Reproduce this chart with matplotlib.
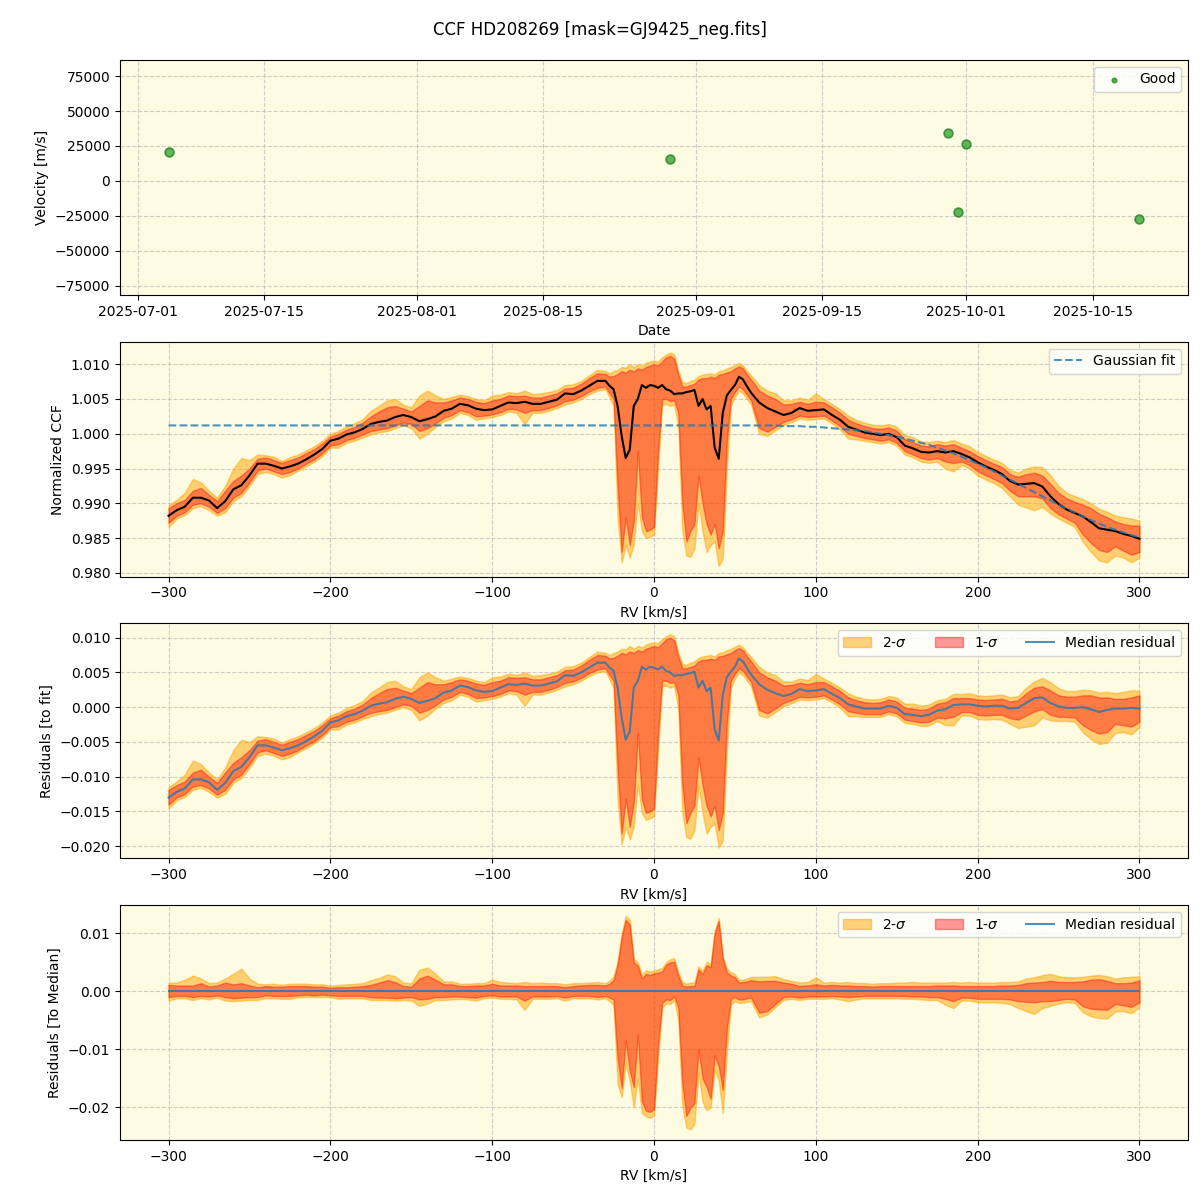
import numpy as np
import pandas as pd
import matplotlib
matplotlib.use('Agg')
import matplotlib.pyplot as plt
import matplotlib.dates as mdates

# --------------------------------------------
# Radial velocities of the individual epochs
# --------------------------------------------
datas = pd.to_datetime(['2025-07-04 10:00', '2025-08-29 03:00', '2025-09-29 00:00',
                        '2025-09-30 02:00', '2025-10-01 00:00', '2025-10-20 05:00'])
velocidades = [21000, 16000, 34500, -22500, 26500, -27000]

# --------------------------------------------
# CCF profile (median and percentile bands)
# grid: 5 km/s, 2.5 km/s around the lines, then 5 km/s
# --------------------------------------------
rv = np.concatenate([np.arange(-300, -29, 5), np.arange(-27.5, 61, 2.5), np.arange(65, 301, 5)])

ccf_med = [
    0.9882, 0.9890, 0.9895, 0.9908, 0.9908, 0.9904, 0.9893, 0.9903, 0.9920, 0.9926,
    0.9940, 0.9957, 0.9957, 0.9954, 0.9950, 0.9953, 0.9957, 0.9963, 0.9970, 0.9978,
    0.9990, 0.9993, 0.9999, 1.0002, 1.0007, 1.0014, 1.0017, 1.0019, 1.0024, 1.0027,
    1.0024, 1.0018, 1.0021, 1.0025, 1.0033, 1.0036, 1.0043, 1.0041, 1.0036, 1.0034,
    1.0035, 1.0040, 1.0045, 1.0044, 1.0046, 1.0043, 1.0043, 1.0046, 1.0049, 1.0058,
    1.0057, 1.0062, 1.0069, 1.0076, 1.0076,
    1.0069, 1.0064, 1.0040, 0.9997, 0.9965, 0.9977, 1.0040, 1.0050, 1.0070, 1.0066,
    1.0070, 1.0069, 1.0066, 1.0070, 1.0064, 1.0062, 1.0057, 1.0058, 1.0058, 1.0060,
    1.0061, 1.0063, 1.0040, 1.0050, 1.0035, 1.0040, 0.9980, 0.9964, 1.0030, 1.0055,
    1.0063, 1.0070, 1.0082, 1.0078, 1.0068, 1.0059,
    1.0045, 1.0037, 1.0032, 1.0027, 1.0030, 1.0037, 1.0033, 1.0034, 1.0035, 1.0027,
    1.0020, 1.0010, 1.0006, 1.0002, 1.0000, 0.9998, 1.0000, 0.9995, 0.9983, 0.9979,
    0.9974, 0.9973, 0.9975, 0.9973, 0.9975, 0.9971, 0.9966, 0.9959, 0.9953, 0.9948,
    0.9942, 0.9932, 0.9927, 0.9928, 0.9929, 0.9924, 0.9910, 0.9899, 0.9891, 0.9886,
    0.9881, 0.9873, 0.9864, 0.9862, 0.9860, 0.9856, 0.9853, 0.9849,
]

ccf_lo2 = [
    0.9866, 0.9878, 0.9883, 0.9893, 0.9896, 0.9890, 0.9882, 0.9887, 0.9903, 0.9910,
    0.9925, 0.9942, 0.9945, 0.9942, 0.9937, 0.9940, 0.9947, 0.9953, 0.9960, 0.9968,
    0.9980, 0.9980, 0.9987, 0.9990, 0.9995, 0.9999, 1.0002, 1.0004, 1.0008, 1.0012,
    1.0008, 0.9993, 1.0000, 1.0010, 1.0018, 1.0022, 1.0030, 1.0027, 1.0020, 1.0022,
    1.0024, 1.0027, 1.0032, 1.0030, 1.0014, 1.0030, 1.0030, 1.0033, 1.0037, 1.0042,
    1.0045, 1.0050, 1.0057, 1.0062, 1.0064,
    1.0052, 1.0040, 0.9880, 0.9815, 0.9840, 0.9822, 0.9840, 0.9900, 0.9860, 0.9850,
    0.9852, 0.9855, 0.9950, 1.0042, 1.0043, 1.0040, 1.0042, 1.0010, 0.9860, 0.9825,
    0.9823, 0.9835, 0.9900, 0.9860, 0.9830, 0.9840, 0.9845, 0.9810, 0.9820, 0.9950,
    1.0040, 1.0053, 1.0062, 1.0058, 1.0050, 1.0042,
    1.0000, 0.9997, 1.0005, 1.0012, 1.0017, 1.0022, 1.0020, 1.0021, 1.0022, 1.0015,
    1.0006, 0.9993, 0.9992, 0.9990, 0.9988, 0.9986, 0.9988, 0.9983, 0.9970, 0.9966,
    0.9960, 0.9958, 0.9960, 0.9950, 0.9946, 0.9955, 0.9950, 0.9940, 0.9934, 0.9929,
    0.9922, 0.9910, 0.9898, 0.9894, 0.9890, 0.9895, 0.9885, 0.9878, 0.9872, 0.9866,
    0.9845, 0.9830, 0.9818, 0.9815, 0.9825, 0.9822, 0.9815, 0.9822,
]

ccf_lo1 = [
    0.9872, 0.9882, 0.9887, 0.9898, 0.9900, 0.9895, 0.9886, 0.9893, 0.9908, 0.9915,
    0.9930, 0.9947, 0.9950, 0.9946, 0.9942, 0.9945, 0.9950, 0.9957, 0.9963, 0.9972,
    0.9983, 0.9985, 0.9991, 0.9994, 0.9999, 1.0004, 1.0006, 1.0008, 1.0012, 1.0016,
    1.0014, 1.0004, 1.0008, 1.0015, 1.0023, 1.0027, 1.0034, 1.0031, 1.0025, 1.0026,
    1.0028, 1.0031, 1.0036, 1.0035, 1.0030, 1.0034, 1.0034, 1.0037, 1.0041, 1.0047,
    1.0049, 1.0054, 1.0061, 1.0066, 1.0068,
    1.0058, 1.0050, 0.9925, 0.9830, 0.9880, 0.9840, 0.9875, 0.9975, 0.9880, 0.9860,
    0.9862, 0.9866, 0.9975, 1.0050, 1.0050, 1.0047, 1.0048, 1.0030, 0.9900, 0.9845,
    0.9860, 0.9870, 0.9940, 0.9900, 0.9870, 0.9855, 0.9870, 0.9835, 0.9860, 0.9990,
    1.0050, 1.0060, 1.0068, 1.0064, 1.0056, 1.0048,
    1.0008, 1.0003, 1.0010, 1.0017, 1.0021, 1.0026, 1.0024, 1.0025, 1.0026, 1.0019,
    1.0011, 1.0000, 0.9997, 0.9994, 0.9992, 0.9990, 0.9992, 0.9987, 0.9975, 0.9970,
    0.9965, 0.9963, 0.9965, 0.9960, 0.9958, 0.9960, 0.9955, 0.9946, 0.9940, 0.9935,
    0.9929, 0.9918, 0.9910, 0.9910, 0.9910, 0.9907, 0.9893, 0.9884, 0.9878, 0.9872,
    0.9855, 0.9843, 0.9833, 0.9830, 0.9838, 0.9832, 0.9826, 0.9830,
]

ccf_hi1 = [
    0.9893, 0.9900, 0.9905, 0.9918, 0.9922, 0.9912, 0.9903, 0.9918, 0.9932, 0.9940,
    0.9950, 0.9964, 0.9966, 0.9962, 0.9958, 0.9962, 0.9966, 0.9972, 0.9978, 0.9986,
    0.9996, 1.0000, 1.0006, 1.0010, 1.0016, 1.0025, 1.0032, 1.0038, 1.0040, 1.0036,
    1.0032, 1.0040, 1.0048, 1.0045, 1.0045, 1.0048, 1.0052, 1.0050, 1.0046, 1.0044,
    1.0048, 1.0050, 1.0055, 1.0054, 1.0055, 1.0052, 1.0052, 1.0055, 1.0058, 1.0065,
    1.0066, 1.0072, 1.0080, 1.0087, 1.0086,
    1.0082, 1.0083, 1.0086, 1.0090, 1.0088, 1.0092, 1.0090, 1.0094, 1.0092, 1.0096,
    1.0098, 1.0100, 1.0098, 1.0104, 1.0110, 1.0112, 1.0108, 1.0085, 1.0068, 1.0068,
    1.0070, 1.0072, 1.0078, 1.0080, 1.0080, 1.0082, 1.0080, 1.0085, 1.0086, 1.0088,
    1.0090, 1.0094, 1.0097, 1.0094, 1.0085, 1.0078,
    1.0062, 1.0055, 1.0050, 1.0042, 1.0043, 1.0046, 1.0043, 1.0046, 1.0045, 1.0038,
    1.0030, 1.0020, 1.0015, 1.0011, 1.0008, 1.0007, 1.0009, 1.0004, 0.9992, 0.9988,
    0.9983, 0.9982, 0.9985, 0.9983, 0.9985, 0.9980, 0.9975, 0.9968, 0.9962, 0.9957,
    0.9952, 0.9942, 0.9938, 0.9942, 0.9944, 0.9940, 0.9928, 0.9915, 0.9907, 0.9902,
    0.9898, 0.9893, 0.9885, 0.9880, 0.9874, 0.9870, 0.9868, 0.9868,
]

ccf_hi2 = [
    0.9897, 0.9905, 0.9915, 0.9935, 0.9930, 0.9918, 0.9908, 0.9925, 0.9950, 0.9965,
    0.9962, 0.9970, 0.9969, 0.9967, 0.9961, 0.9966, 0.9970, 0.9976, 0.9982, 0.9990,
    1.0000, 1.0004, 1.0011, 1.0015, 1.0021, 1.0033, 1.0040, 1.0048, 1.0050, 1.0042,
    1.0038, 1.0055, 1.0062, 1.0055, 1.0050, 1.0053, 1.0056, 1.0054, 1.0050, 1.0048,
    1.0055, 1.0056, 1.0060, 1.0058, 1.0062, 1.0057, 1.0058, 1.0060, 1.0063, 1.0070,
    1.0071, 1.0076, 1.0084, 1.0092, 1.0090,
    1.0087, 1.0090, 1.0092, 1.0096, 1.0095, 1.0100, 1.0096, 1.0100, 1.0098, 1.0102,
    1.0104, 1.0105, 1.0104, 1.0110, 1.0114, 1.0117, 1.0114, 1.0090, 1.0074, 1.0073,
    1.0076, 1.0078, 1.0083, 1.0085, 1.0086, 1.0087, 1.0085, 1.0090, 1.0091, 1.0094,
    1.0096, 1.0099, 1.0102, 1.0098, 1.0090, 1.0084,
    1.0070, 1.0062, 1.0058, 1.0048, 1.0048, 1.0052, 1.0049, 1.0058, 1.0050, 1.0043,
    1.0035, 1.0026, 1.0020, 1.0016, 1.0013, 1.0012, 1.0014, 1.0010, 0.9998, 0.9995,
    0.9989, 0.9988, 0.9990, 0.9988, 0.9991, 0.9986, 0.9982, 0.9974, 0.9968, 0.9963,
    0.9958, 0.9948, 0.9944, 0.9950, 0.9953, 0.9952, 0.9940, 0.9925, 0.9915, 0.9910,
    0.9906, 0.9900, 0.9892, 0.9888, 0.9882, 0.9880, 0.9878, 0.9875,
]

# Gaussian fit: flat 1.0012 up to +60 km/s, then the falling wing
gauss_fit = [1.0012] * 91 + [
    1.0012, 1.0012, 1.0012, 1.0011, 1.0011, 1.0011, 1.0010, 1.0010, 1.0009, 1.0008,
    1.0007, 1.0006, 1.0005, 1.0004, 1.0002, 1.0000, 0.9998, 0.9996, 0.9993, 0.9990,
    0.9987, 0.9984, 0.9980, 0.9976, 0.9972, 0.9967, 0.9962, 0.9957, 0.9952, 0.9946,
    0.9940, 0.9934, 0.9928, 0.9922, 0.9916, 0.9910, 0.9904, 0.9898, 0.9892, 0.9887,
    0.9881, 0.9876, 0.9871, 0.9866, 0.9862, 0.9858, 0.9854, 0.9851,
]

med = np.array(ccf_med)
lo1, hi1 = np.array(ccf_lo1), np.array(ccf_hi1)
lo2, hi2 = np.array(ccf_lo2), np.array(ccf_hi2)
fit = np.array(gauss_fit)

fundo = '#fdfbe2'

fig, axs = plt.subplots(4, 1, figsize=(12, 12), dpi=100)
fig.subplots_adjust(left=0.1, right=0.99, top=0.95, bottom=0.05, hspace=0.2)
fig.suptitle('CCF HD208269 [mask=GJ9425_neg.fits]', fontsize=12, y=0.983)

for ax in axs:
    ax.set_facecolor(fundo)
    ax.grid(True, linestyle='--', color='#bbbbbb', alpha=0.7)
    ax.set_axisbelow(True)

# painel 1: velocidades
ax = axs[0]
ax.scatter(datas, velocidades, s=40, color='#2ca02c', alpha=0.75,
           edgecolors='#1e7a1e', linewidths=1.2, label='Good')
ax.set_ylim(-81500, 86500)
ax.xaxis.set_major_locator(mdates.DayLocator(bymonthday=[1, 15]))
ax.xaxis.set_major_formatter(mdates.DateFormatter('%Y-%m-%d'))
ax.set_xlabel('Date')
ax.set_ylabel('Velocity [m/s]')
ax.legend(loc='upper right', markerscale=0.5)

# painel 2: CCF normalizada
ax = axs[1]
ax.fill_between(rv, lo2, hi2, color='orange', alpha=0.5)
ax.fill_between(rv, lo1, hi1, color='red', alpha=0.4)
ax.plot(rv, med, color='black', lw=1.5)
ax.plot(rv, fit, color='C0', ls='--', lw=1.5, alpha=0.8, label='Gaussian fit')
ax.set_xlabel('RV [km/s]')
ax.set_ylabel('Normalized CCF')
ax.legend(loc='upper right')

# painel 3: residuos em relacao ao ajuste
ax = axs[2]
ax.fill_between(rv, lo2 - fit, hi2 - fit, color='orange', alpha=0.5, label='2-$\\sigma$')
ax.fill_between(rv, lo1 - fit, hi1 - fit, color='red', alpha=0.4, label='1-$\\sigma$')
ax.plot(rv, med - fit, color='C0', lw=1.5, alpha=0.8, label='Median residual')
ax.set_xlabel('RV [km/s]')
ax.set_ylabel('Residuals [to fit]')
ax.legend(loc='upper right', ncol=3)

# painel 4: residuos em relacao a mediana
ax = axs[3]
ax.fill_between(rv, lo2 - med, hi2 - med, color='orange', alpha=0.5, label='2-$\\sigma$')
ax.fill_between(rv, lo1 - med, hi1 - med, color='red', alpha=0.4, label='1-$\\sigma$')
ax.plot(rv, med - med, color='C0', lw=1.5, alpha=0.8, label='Median residual')
ax.set_xlabel('RV [km/s]')
ax.set_ylabel('Residuals [To Median]')
ax.legend(loc='upper right', ncol=3)

plt.savefig('out.png')
